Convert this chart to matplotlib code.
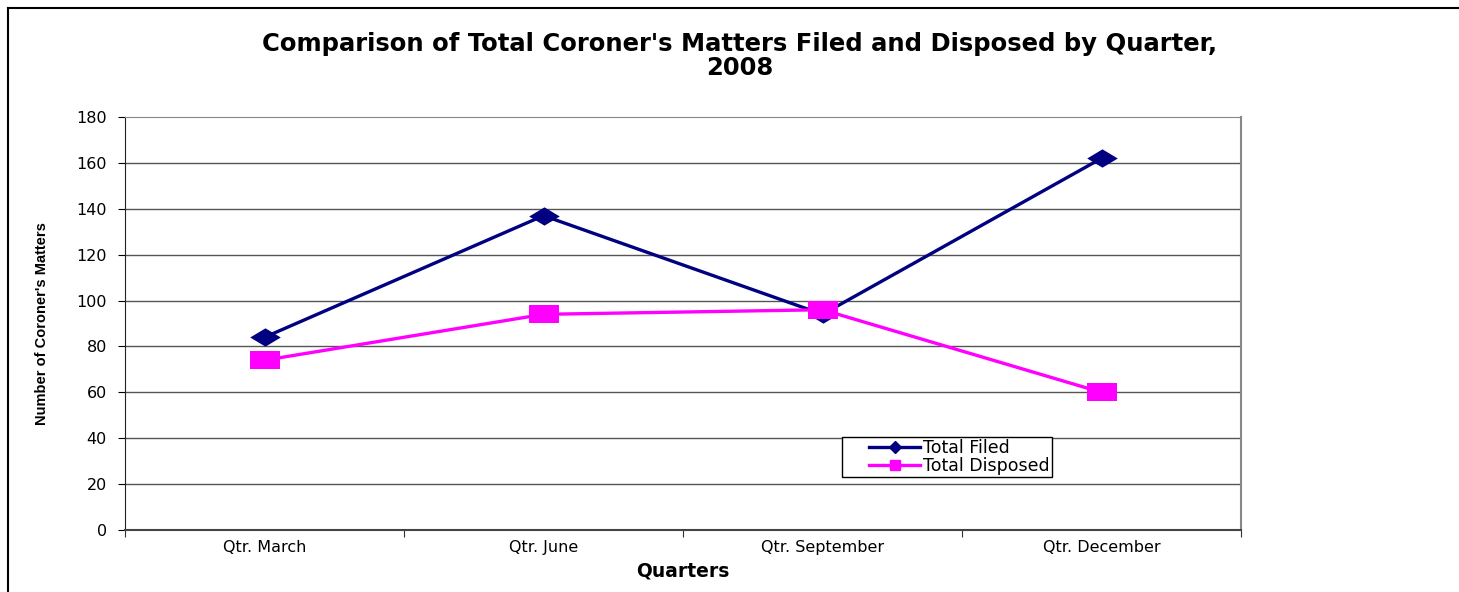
import matplotlib.pyplot as plt
from matplotlib.lines import Line2D
from matplotlib.legend_handler import HandlerLine2D

plt.rcParams['font.family'] = ['DejaVu Sans']

quarters = ["Qtr. March", "Qtr. June", "Qtr. September", "Qtr. December"]
total_filed = [84, 137, 94, 162]
total_disposed = [74, 94, 96, 60]

navy = "#000080"
magenta = "#FF00FF"

# flattened diamond / box markers like the excel ones
diamond = [(-1, 0), (0, 0.6), (1, 0), (0, -0.6), (-1, 0)]
box = [(-1, -0.58), (1, -0.58), (1, 0.58), (-1, 0.58), (-1, -0.58)]


class GapHandler(HandlerLine2D):
    # leave some empty room left of the legend line, like excel does
    def create_artists(self, legend, orig_handle, xdescent, ydescent, width, height, fontsize, trans):
        off = 0.33 * width
        return super().create_artists(legend, orig_handle, xdescent - off, ydescent,
                                      width - off, height, fontsize, trans)


fig = plt.figure(figsize=(14.59, 5.92), dpi=100)
ax = fig.add_axes([0.0857, 0.1047, 0.7649, 0.6977])

x = [i + 0.5 for i in range(len(quarters))]
ax.plot(x, total_filed, color=navy, linewidth=2.4, marker=diamond, markersize=22,
        markeredgewidth=0, zorder=3)
ax.plot(x, total_disposed, color=magenta, linewidth=2.4, marker=box, markersize=22,
        markeredgewidth=0, zorder=4)

ax.set_xlim(0, 4)
ax.set_ylim(0, 180)
ax.set_yticks(range(0, 181, 20))
ax.set_xticks(range(0, 5))
ax.set_xticklabels([])
ax.set_xticks(x, minor=True)
ax.set_xticklabels(quarters, minor=True)
ax.tick_params(axis='x', which='minor', length=0, pad=7, labelsize=11.5)
ax.tick_params(axis='x', which='major', length=5, direction='out', color='#333333')
ax.tick_params(axis='y', length=5, direction='out', labelsize=11.5, pad=8)

for v in range(20, 180, 20):
    ax.axhline(v, color='#555555', linewidth=1.0, zorder=1)

ax.spines['left'].set_color('#222222')
ax.spines['bottom'].set_color('#444444')
ax.spines['bottom'].set_linewidth(1.5)
ax.spines['top'].set_color('#888888')
ax.spines['right'].set_color('#888888')
ax.spines['right'].set_linewidth(1.5)

ax.set_xlabel("Quarters", fontsize=13.5, fontweight='bold', labelpad=5)
ax.set_ylabel("Number of Coroner's Matters", fontsize=10.5, fontweight='bold', labelpad=20,
              family=['Liberation Sans Narrow', 'Liberation Sans'])

fig.text(0.507, 0.905, "Comparison of Total Coroner's Matters Filed and Disposed by Quarter,\n2008",
         ha='center', va='center', fontsize=17.5, fontweight='bold', linespacing=1.0)

handles = [
    Line2D([], [], color=navy, linewidth=2.4, marker='D', markersize=6),
    Line2D([], [], color=magenta, linewidth=2.4, marker='s', markersize=7),
]
leg = fig.legend(handles, ["Total Filed", "Total Disposed"], loc='upper left',
                 bbox_to_anchor=(842 / 1459, 1 - 437 / 592), fontsize=12.5,
                 frameon=True, fancybox=False, edgecolor='black', framealpha=1,
                 handlelength=4.4, handletextpad=0.15, borderpad=0.12, labelspacing=0.0,
                 borderaxespad=0, handler_map={Line2D: GapHandler()})
leg.get_frame().set_linewidth(1.0)

# outer chart border
fig.add_artist(Line2D([8 / 1459, 8 / 1459], [0, 1 - 8 / 592], color='black', linewidth=1.5,
                      transform=fig.transFigure))
fig.add_artist(Line2D([8 / 1459, 1], [1 - 8 / 592, 1 - 8 / 592], color='black', linewidth=1.5,
                      transform=fig.transFigure))

fig.savefig("out.png", dpi=100)
